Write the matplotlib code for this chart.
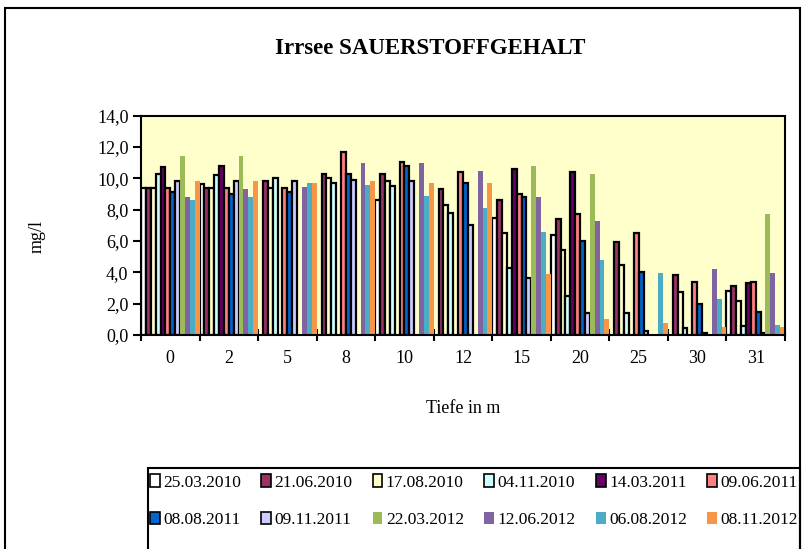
import numpy as np
import matplotlib
matplotlib.use("Agg")
import matplotlib.pyplot as plt
from matplotlib.patches import Rectangle, Patch

plt.rcParams['font.family'] = ['Liberation Serif', 'DejaVu Serif']

# Tiefen (Kategorien)
depths = ['0', '2', '5', '8', '10', '12', '15', '20', '25', '30', '31']
dates = ['25.03.2010', '21.06.2010', '17.08.2010', '04.11.2010', '14.03.2011', '09.06.2011',
         '08.08.2011', '09.11.2011', '22.03.2012', '12.06.2012', '06.08.2012', '08.11.2012']

nan = np.nan
# Sauerstoff in mg/l je Messtermin
o2_25_03_2010 = [9.4, 9.65, nan, nan, 8.6, nan, 7.5, 6.4, nan, nan, 2.8]
o2_21_06_2010 = [9.4, 9.4, 9.8, 10.3, 10.3, 9.3, 8.6, 7.4, 5.95, 3.8, 3.15]
o2_17_08_2010 = [9.4, 9.4, 9.4, 10.0, 9.8, 8.3, 6.5, 5.4, 4.5, 2.75, 2.15]
o2_04_11_2010 = [10.3, 10.2, 10.0, 9.7, 9.5, 7.8, 4.3, 2.5, 1.4, 0.45, 0.6]
o2_14_03_2011 = [10.7, 10.8, nan, nan, nan, nan, 10.6, 10.4, nan, nan, 3.3]
o2_09_06_2011 = [9.4, 9.4, 9.4, 11.7, 11.05, 10.4, 9.0, 7.7, 6.5, 3.4, 3.4]
o2_08_08_2011 = [9.15, 9.0, 9.15, 10.3, 10.8, 9.7, 8.8, 6.0, 4.0, 2.0, 1.5]
o2_09_11_2011 = [9.8, 9.8, 9.8, 9.9, 9.8, 7.0, 3.65, 1.4, 0.25, 0.1, 0.1]
o2_22_03_2012 = [11.45, 11.45, nan, nan, nan, nan, 10.8, 10.3, nan, nan, 7.75]
o2_12_06_2012 = [8.8, 9.3, 9.45, 11.0, 11.0, 10.45, 8.8, 7.3, nan, 4.2, 3.95]
o2_06_08_2012 = [8.65, 8.8, 9.7, 9.6, 8.9, 8.1, 6.6, 4.8, 3.95, 2.3, 0.65]
o2_08_11_2012 = [9.8, 9.8, 9.7, 9.8, 9.7, 9.7, 3.9, 1.0, 0.75, 0.5, 0.5]

series = [o2_25_03_2010, o2_21_06_2010, o2_17_08_2010, o2_04_11_2010, o2_14_03_2011, o2_09_06_2011,
          o2_08_08_2011, o2_09_11_2011, o2_22_03_2012, o2_12_06_2012, o2_06_08_2012, o2_08_11_2012]
colors = ['#FFFFFF', '#993366', '#FFFFCC', '#CCFFFF', '#660066', '#FF8080',
          '#0066CC', '#CCCCFF', '#9BBB59', '#8064A2', '#4BACC6', '#F79646']
outlined = [True] * 8 + [False] * 4

W, H = 807, 549
fig = plt.figure(figsize=(W / 100, H / 100), dpi=100)
fig.patch.set_facecolor('white')

# Rahmen um das ganze Diagramm
fig.patches.append(Rectangle((5 / W, -0.05), 795 / W, 1.05 - 8 / H, transform=fig.transFigure,
                             fill=False, edgecolor='black', linewidth=1.5))

ax = fig.add_axes([141 / W, 1 - 335 / H, 644 / W, 219.3 / H])
ax.set_facecolor('#FFFFCC')

n = len(series)
x = np.arange(len(depths))
bw = 1.0 / n
for i, (vals, c, ol) in enumerate(zip(series, colors, outlined)):
    pos = x - 0.5 + bw * (i + 0.5)
    ax.bar(pos, np.array(vals, dtype=float), width=bw, color=c,
           edgecolor='black' if ol else 'none', linewidth=1.6 if ol else 0, zorder=2)

ax.set_xlim(-0.5, len(depths) - 0.5)
ax.set_ylim(0, 14)
ax.set_yticks(np.arange(0, 14.1, 2))
ax.set_yticklabels([f'{v:.1f}'.replace('.', ',') for v in np.arange(0, 14.1, 2)], fontsize=13)
ax.set_xticks(x)
ax.set_xticklabels(depths, fontsize=13)
ax.set_xticks(np.arange(-0.5, len(depths)), minor=True)
ax.tick_params(axis='x', which='major', length=0, pad=11)
ax.tick_params(axis='x', which='minor', direction='inout', length=8, width=1.5)
ax.tick_params(axis='y', direction='out', length=6, width=1.5, pad=3)
for s in ax.spines.values():
    s.set_linewidth(1.5)

ax.set_ylabel('mg/l', fontsize=13)
ax.yaxis.set_label_coords(-0.148, 0.447)
ax.set_xlabel('Tiefe in m', fontsize=13)
ax.xaxis.set_label_coords(0.5, -0.295)

fig.text(430 / W, 1 - 48 / H, 'Irrsee SAUERSTOFFGEHALT', ha='center', va='center',
         fontsize=16.5, fontweight='bold')

# Legende: zeilenweise Reihenfolge (6 Spalten, 2 Zeilen)
handles = [Patch(facecolor=c, edgecolor='black' if ol else c, linewidth=1.2 if ol else 0)
           for c, ol in zip(colors, outlined)]
order = [j + 6 * r for j in range(6) for r in range(2)]
fig.patches.append(Rectangle((148 / W, -0.05), 652 / W, 0.05 + 1 - 468 / H, transform=fig.transFigure,
                             fill=False, edgecolor='black', linewidth=1.5))
fig.legend([handles[k] for k in order], [dates[k] for k in order], ncol=6, loc='lower left',
           frameon=False, fontsize=12.5,
           bbox_to_anchor=(150 / W, 1 - 528 / H, 648 / W, 70 / H), mode='expand',
           handlelength=0.55, handleheight=0.75, handletextpad=0.2, labelspacing=1.2,
           borderaxespad=0, borderpad=0)

fig.savefig('out.png', dpi=100)
